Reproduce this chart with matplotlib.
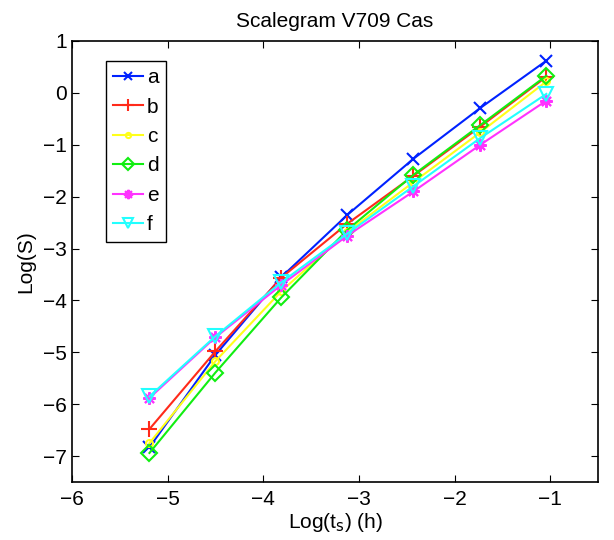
import matplotlib
matplotlib.use("Agg")
import matplotlib.pyplot as plt

plt.rcParams["font.family"] = ["Liberation Sans", "DejaVu Sans"]

log_ts = [-5.19, -4.50, -3.81, -3.12, -2.43, -1.73, -1.04]
series_a = [-6.83, -5.05, -3.55, -2.35, -1.27, -0.29, 0.62]
series_b = [-6.48, -4.98, -3.56, -2.52, -1.60, -0.65, 0.31]
series_c = [-6.75, -5.17, -3.82, -2.68, -1.72, -0.76, 0.22]
series_d = [-6.94, -5.39, -3.94, -2.64, -1.58, -0.62, 0.33]
series_e = [-5.88, -4.71, -3.70, -2.75, -1.90, -1.00, -0.15]
series_f = [-5.85, -4.69, -3.65, -2.71, -1.80, -0.87, -0.02]
labels = ["a", "b", "c", "d", "e", "f"]

styles = [
    dict(color="#0022ff", marker="x", ms=8),
    dict(color="#ff2a1a", marker="+", ms=11),
    dict(color="#ffff1a", marker="o", ms=5, mfc="none"),
    dict(color="#11ee11", marker="D", ms=8, mfc="none"),
    dict(color="#ff33ff", marker=(8, 2, 0), ms=9),
    dict(color="#22ffff", marker="v", ms=10, mfc="none"),
]

fig = plt.figure(figsize=(6.14, 5.40), dpi=100)
ax = fig.add_axes([72 / 614, 58 / 540, 526 / 614, 441 / 540])

for ys, lab, st in zip([series_a, series_b, series_c, series_d, series_e, series_f], labels, styles):
    ax.plot(log_ts, ys, lw=1.5, mew=1.5, label=lab, **st)

ax.set_xlim(-6, -0.5)
ax.set_ylim(-7.5, 1)
ax.set_xticks([-6, -5, -4, -3, -2, -1])
ax.set_yticks([-7, -6, -5, -4, -3, -2, -1, 0, 1])
ax.set_xticklabels(["\u22126", "\u22125", "\u22124", "\u22123", "\u22122", "\u22121"])
ax.set_yticklabels(["\u22127", "\u22126", "\u22125", "\u22124", "\u22123", "\u22122", "\u22121", "0", "1"])
ax.tick_params(direction="in", top=True, right=True, labelsize=15, length=5, width=0.8)
ax.tick_params(axis="x", pad=6)
for sp in ax.spines.values():
    sp.set_linewidth(1.2)

ax.set_title("Scalegram V709 Cas", fontsize=15, pad=10)
ax.set_xlabel("Log(t$_{\\rm s}$) (h)", fontsize=15, labelpad=1)
ax.set_ylabel("Log(S)", fontsize=15, labelpad=6)

leg = ax.legend(loc="upper left", bbox_to_anchor=(0.065, 0.955), fontsize=15,
                fancybox=False, edgecolor="black", framealpha=1,
                handlelength=1.4, handletextpad=0.2, labelspacing=0.5,
                borderpad=0.35, borderaxespad=0, markerscale=0.75)
leg.get_frame().set_linewidth(1.0)

fig.savefig("out.png", dpi=100)
